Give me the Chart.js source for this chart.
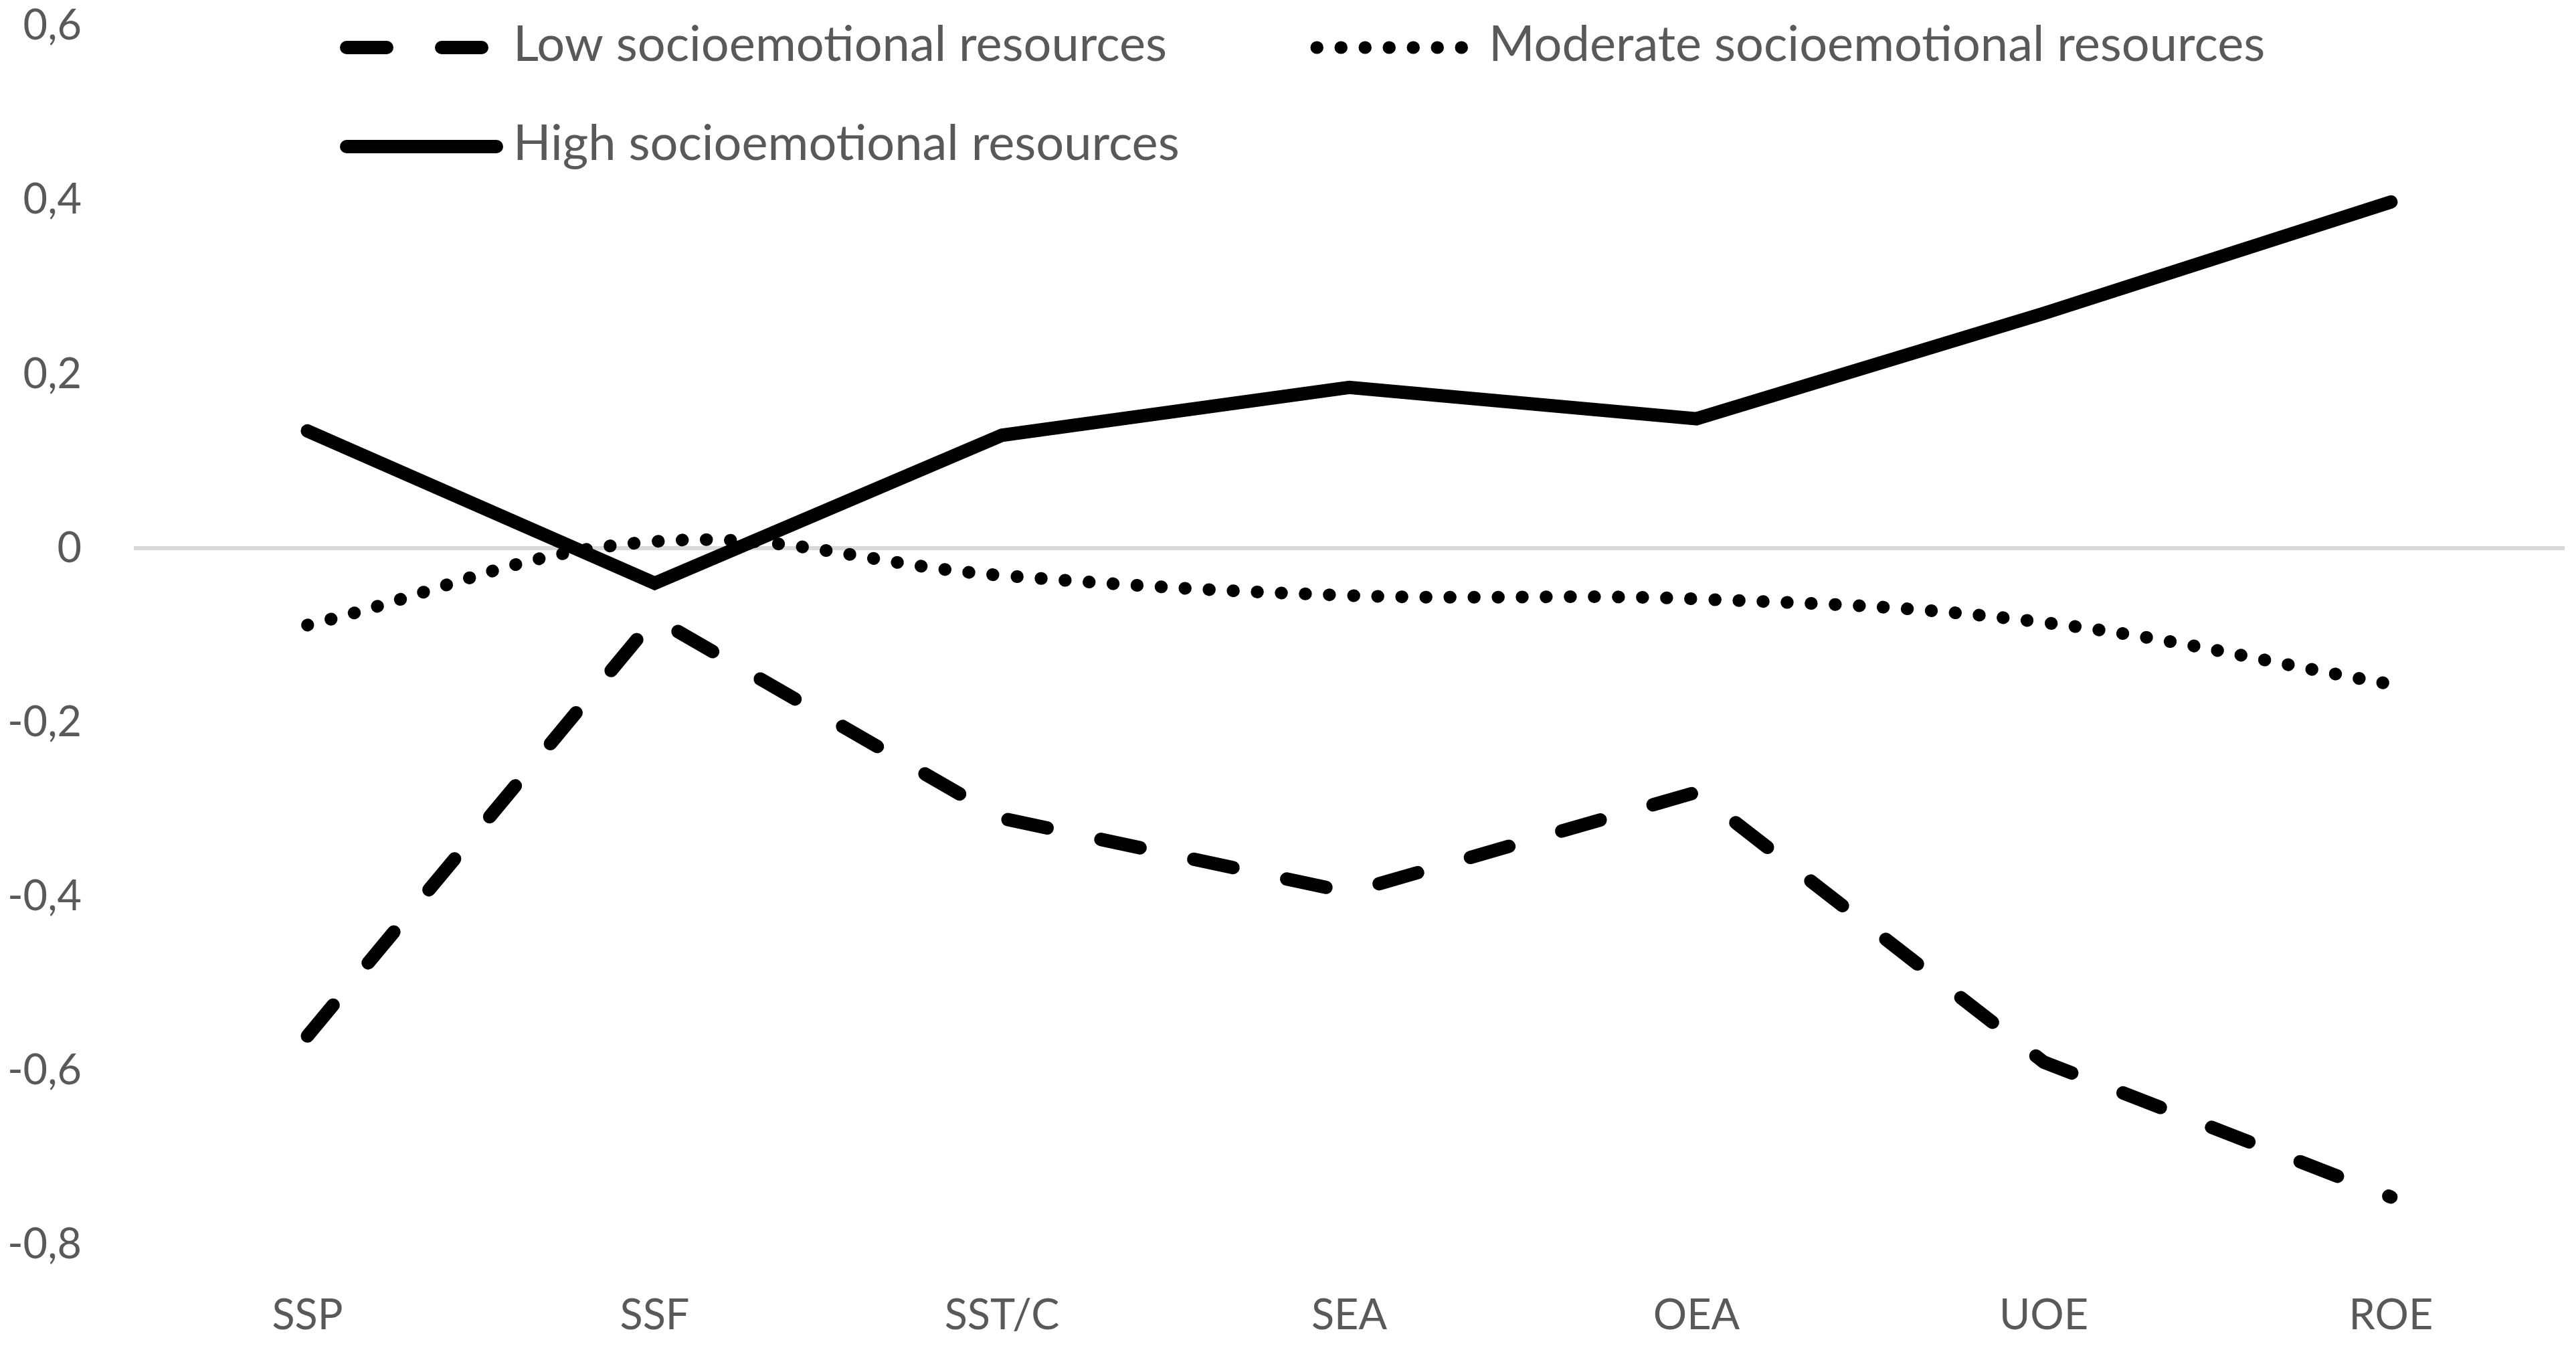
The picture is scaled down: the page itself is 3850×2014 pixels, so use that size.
<!DOCTYPE html>
<html>
<head>
<meta charset="utf-8">
<title>Socioemotional resources profiles</title>
<script src="https://cdn.jsdelivr.net/npm/chart.js@4.4.1/dist/chart.umd.min.js"></script>
<style>
  html, body { margin: 0; padding: 0; background: #fff; }
  #wrap { width: 3850px; height: 2014px; }
</style>
</head>
<body>
<div id="wrap"><canvas id="myLineChart" width="3850" height="2014"></canvas></div>
<script>
// categories on the x axis
var categorias = ['SSP', 'SSF', 'SST/C', 'SEA', 'OEA', 'UOE', 'ROE'];

// series values
var baixos = [-0.56, -0.08, -0.31, -0.395, -0.28, -0.59, -0.745];
var moderados = [-0.088, 0.008, -0.031, -0.054, -0.058, -0.085, -0.156];
var altos = [0.135, -0.04, 0.13, 0.185, 0.149, 0.27, 0.398];

// y axis ticks
var yMin = -0.8, yMax = 0.6, yPasso = 0.2;

var nomes = ['Low socioemotional resources', 'Moderate socioemotional resources', 'High socioemotional resources'];

var cinza = '#595959';
var fonte = 'Lato, "Open Sans", sans-serif';

// legend drawn inside the plot area, like the original
var legendaPlugin = {
  id: 'legendaDentro',
  afterDraw: function(chart) {
    var ctx = chart.ctx;
    var ds = chart.data.datasets;
    var itens = [
      { i: 0, x0: 518, x1: 742, y: 71, tx: 767 },
      { i: 1, x0: 1968, x1: 2190, y: 71, tx: 2225 },
      { i: 2, x0: 518, x1: 742, y: 219, tx: 767 }
    ];
    ctx.save();
    itens.forEach(function(it) {
      var d = ds[it.i];
      ctx.beginPath();
      ctx.strokeStyle = d.borderColor;
      ctx.lineWidth = d.borderWidth;
      ctx.lineCap = 'round';
      ctx.setLineDash(d.borderDash || []);
      ctx.moveTo(it.x0, it.y);
      ctx.lineTo(it.x1, it.y);
      ctx.stroke();
      ctx.setLineDash([]);
      ctx.fillStyle = cinza;
      ctx.font = '74px ' + fonte;
      ctx.textBaseline = 'alphabetic';
      ctx.textAlign = 'left';
      ctx.fillText(d.label, it.tx, it.y + 20);
    });
    ctx.restore();
  }
};

var data = {
  labels: categorias,
  datasets: [{
    label: nomes[0],
    data: baixos,
    borderColor: '#000',
    borderWidth: 20,
    borderDash: [60, 82],
    borderCapStyle: 'round',
    borderJoinStyle: 'round',
    pointRadius: 0,
    tension: 0,
    fill: false
  }, {
    label: nomes[1],
    data: moderados,
    borderColor: '#000',
    borderWidth: 19,
    borderDash: [0.5, 35.5],
    borderCapStyle: 'round',
    pointRadius: 0,
    tension: 0.4,
    fill: false
  }, {
    label: nomes[2],
    data: altos,
    borderColor: '#000',
    borderWidth: 20,
    borderCapStyle: 'round',
    borderJoinStyle: 'miter',
    pointRadius: 0,
    tension: 0,
    fill: false
  }]
};

var ctx = document.getElementById('myLineChart').getContext('2d');
var myLine = new Chart(ctx, {
  type: 'line',
  data: data,
  plugins: [legendaPlugin],
  options: {
    responsive: false,
    devicePixelRatio: 1,
    animation: false,
    layout: { padding: { top: 39, right: 17, bottom: 0, left: 0 } },
    plugins: {
      legend: { display: false },
      tooltip: { enabled: false }
    },
    scales: {
      x: {
        offset: true,
        grid: { display: false, drawTicks: false },
        border: { display: false },
        ticks: {
          color: cinza,
          font: { family: fonte, size: 63 },
          padding: 68,
          maxRotation: 0
        },
        afterFit: function(s) { s.height = 154; }
      },
      y: {
        min: yMin,
        max: yMax,
        border: { display: false },
        grid: {
          drawTicks: false,
          lineWidth: 6,
          color: function(c) { return c.tick && Math.abs(c.tick.value) < 1e-9 ? '#d9d9d9' : 'rgba(0,0,0,0)'; }
        },
        ticks: {
          stepSize: yPasso,
          color: cinza,
          font: { family: fonte, size: 63 },
          padding: 78,
          callback: function(v) {
            var r = Math.round(v * 10) / 10;
            return r === 0 ? '0' : r.toFixed(1).replace('.', ',');
          }
        },
        afterFit: function(s) {
          s.width = 200;
          s.paddingTop = 0;
          s.paddingBottom = 0;
        }
      }
    }
  }
});
</script>
</body>
</html>
